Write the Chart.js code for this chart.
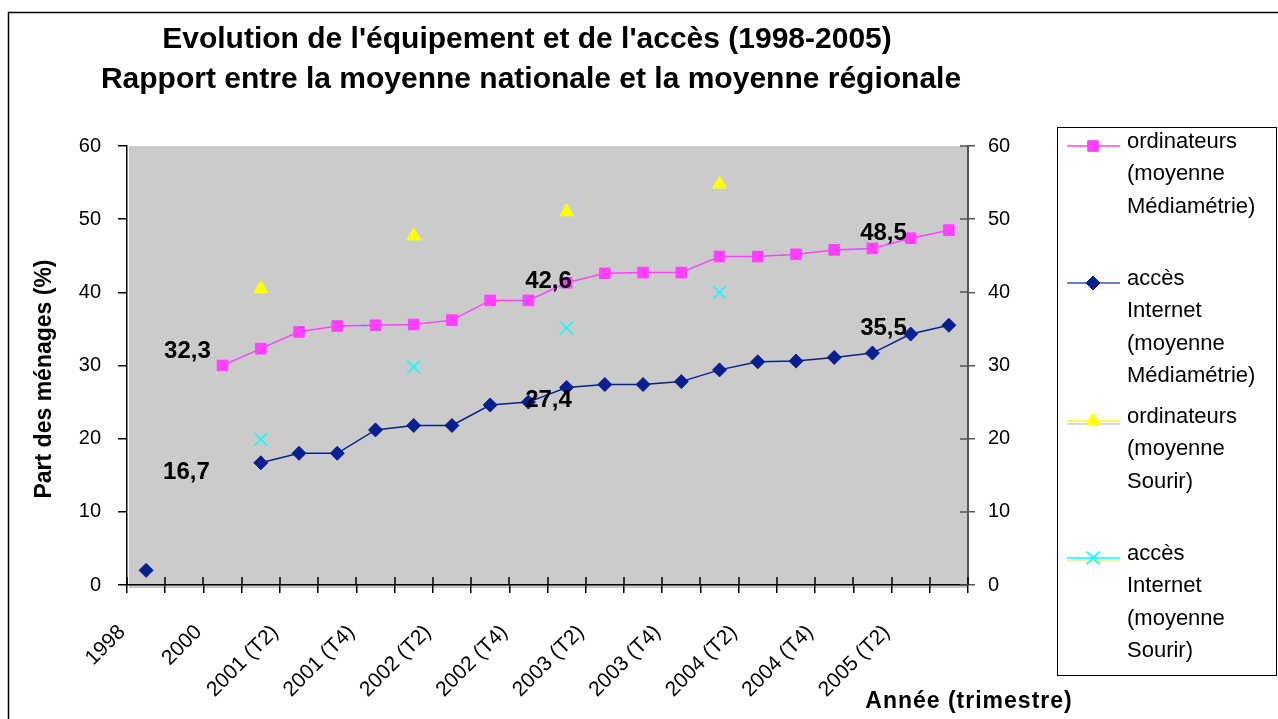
<!DOCTYPE html>
<html lang="fr">
<head>
<meta charset="utf-8">
<title>Evolution de l'équipement et de l'accès (1998-2005)</title>
<script src="https://cdn.jsdelivr.net/npm/chart.js@4.4.1/dist/chart.umd.min.js"></script>
<style>
  html, body { margin: 0; padding: 0; background: #fff; }
  #chart { display: block; }
</style>
</head>
<body>
<canvas id="chart" width="1278" height="719"></canvas>
<script>
// Trimestres (un libellé sur deux est affiché sur l'axe)
const categories = [
  '1998', '1999', '2000', '2001 (T1)', '2001 (T2)', '2001 (T3)', '2001 (T4)',
  '2002 (T1)', '2002 (T2)', '2002 (T3)', '2002 (T4)', '2003 (T1)', '2003 (T2)',
  '2003 (T3)', '2003 (T4)', '2004 (T1)', '2004 (T2)', '2004 (T3)', '2004 (T4)',
  '2005 (T1)', '2005 (T2)', '2005 (T3)'
];

// Médiamétrie (moyenne nationale)
const ordiMediametrie = [null, null, 30.0, 32.3, 34.6, 35.4, 35.5, 35.6, 36.2, 38.9, 38.9,
  41.3, 42.6, 42.7, 42.7, 44.9, 44.9, 45.2, 45.8, 46.0, 47.4, 48.5];
const internetMediametrie = [2.0, null, null, 16.7, 18.0, 18.0, 21.2, 21.8, 21.8, 24.6, 25.0,
  27.0, 27.4, 27.4, 27.8, 29.4, 30.5, 30.6, 31.1, 31.7, 34.3, 35.5];

// Sourir (moyenne régionale), un relevé par an
const ordiSourir = [null, null, null, 40.5, null, null, null, 47.7, null, null, null,
  51.0, null, null, null, 54.8, null, null, null, null, null, null];
const internetSourir = [null, null, null, 19.9, null, null, null, 29.8, null, null, null,
  35.1, null, null, null, 40.0, null, null, null, null, null, null];

const seriesNames = [
  ['ordinateurs', '(moyenne', 'Médiamétrie)'],
  ['accès', 'Internet', '(moyenne', 'Médiamétrie)'],
  ['ordinateurs', '(moyenne', 'Sourir)'],
  ['accès', 'Internet', '(moyenne', 'Sourir)']
];

// points dont la valeur est écrite sur le graphique
const labelledPoints = [3, 12, 21];

const yTicks = [0, 10, 20, 30, 40, 50, 60];

const FONT = '"Liberation Sans", Arial, Helvetica, sans-serif';
const PINK = '#ff40ff';
const NAVY = '#0a1f8f';
const YELLOW = '#ffff00';
const CYAN = '#00ffff';

function fr(v) {
  return v.toFixed(1).replace('.', ',');
}

// fond gris de la zone de tracé + cadre du graphique
const backgroundPlugin = {
  id: 'plotBackground',
  beforeDraw(chart) {
    const { ctx, chartArea: a } = chart;
    ctx.save();
    ctx.fillStyle = '#fff';
    ctx.fillRect(0, 0, chart.width, chart.height);
    ctx.strokeStyle = '#000';
    ctx.lineWidth = 1.5;
    ctx.beginPath();
    ctx.moveTo(8.5, chart.height);
    ctx.lineTo(8.5, 12.5);
    ctx.lineTo(chart.width, 12.5);
    ctx.stroke();
    ctx.fillStyle = '#cbcbcb';
    ctx.fillRect(a.left + 2, a.top, a.right - a.left - 2, a.bottom - a.top + 3);
    ctx.restore();
  }
};

// partie intérieure des graduations (axe X et axe de droite)
const innerTicksPlugin = {
  id: 'innerTicks',
  beforeDatasetsDraw(chart) {
    const { ctx, scales: { x, y1 } } = chart;
    ctx.save();
    ctx.lineWidth = 1.5;
    ctx.strokeStyle = '#000';
    ctx.beginPath();
    for (let i = 0; i <= categories.length; i++) {
      const px = Math.round(x.getPixelForValue(i - 0.5));
      ctx.moveTo(px, x.top);
      ctx.lineTo(px, x.top - 8);
    }
    ctx.stroke();
    ctx.strokeStyle = '#555';
    ctx.beginPath();
    y1.ticks.forEach(t => {
      const py = Math.round(y1.getPixelForValue(t.value));
      ctx.moveTo(y1.left, py);
      ctx.lineTo(y1.left - 8, py);
    });
    ctx.stroke();
    ctx.restore();
  }
};

// valeurs écrites à gauche de certains points
const valueLabelPlugin = {
  id: 'valueLabels',
  afterDatasetsDraw(chart, args, opts) {
    const { ctx } = chart;
    ctx.save();
    ctx.font = `bold 24px ${FONT}`;
    ctx.fillStyle = '#000';
    ctx.textAlign = 'right';
    ctx.textBaseline = 'middle';
    opts.series.forEach(s => {
      const meta = chart.getDatasetMeta(s.dataset);
      const values = chart.data.datasets[s.dataset].data;
      labelledPoints.forEach((idx, k) => {
        const pt = meta.data[idx];
        const [dx, dy] = s.offsets[k];
        ctx.fillText(fr(values[idx]), pt.x + dx, pt.y + dy);
      });
    });
    ctx.restore();
  }
};

// titres du graphique et des axes
const titlesPlugin = {
  id: 'titles',
  afterDraw(chart) {
    const { ctx } = chart;
    ctx.save();
    ctx.fillStyle = '#000';
    ctx.textAlign = 'center';
    ctx.textBaseline = 'middle';
    ctx.font = `bold 30px ${FONT}`;
    ctx.fillText("Evolution de l'équipement et de l'accès (1998-2005)", 527, 40);
    ctx.fillText('Rapport entre la moyenne nationale et la moyenne régionale', 531, 80);

    ctx.font = `bold 23px ${FONT}`;
    ctx.save();
    ctx.translate(45, 379);
    ctx.rotate(-Math.PI / 2);
    ctx.fillText('Part des ménages (%)', 0, 0);
    ctx.restore();

    if ('letterSpacing' in ctx) ctx.letterSpacing = '1px';
    ctx.fillText('Année (trimestre)', 969, 702);
    ctx.restore();
  }
};

// légende à droite, libellés sur plusieurs lignes
const legendBoxPlugin = {
  id: 'legendBox',
  afterDraw(chart) {
    const { ctx } = chart;
    const box = { x: 1057.5, y: 127.5, w: 219, h: 548 };
    const starts = [143, 280, 418, 555];
    const lineStep = 32.4;
    ctx.save();
    ctx.strokeStyle = '#000';
    ctx.lineWidth = 1;
    ctx.strokeRect(box.x, box.y, box.w, box.h);

    chart.data.datasets.forEach((ds, i) => {
      const y0 = starts[i];
      const my = y0 + 3;
      // segment de ligne
      ctx.lineWidth = 1.5;
      ctx.strokeStyle = ds.legendLine;
      ctx.beginPath();
      ctx.moveTo(1067, my);
      ctx.lineTo(1120, my);
      ctx.stroke();
      if (ds.legendLine2) {
        ctx.strokeStyle = ds.legendLine2;
        ctx.beginPath();
        ctx.moveTo(1067, my + 3);
        ctx.lineTo(1120, my + 3);
        ctx.stroke();
      }
      // marqueur
      ctx.fillStyle = ds.pointBackgroundColor;
      ctx.strokeStyle = ds.pointBorderColor;
      ctx.lineWidth = ds.pointBorderWidth;
      Chart.helpers.drawPoint(ctx, {
        pointStyle: ds.pointStyle,
        radius: ds.pointRadius,
        rotation: 0,
        borderWidth: ds.pointBorderWidth
      }, 1093, my);
      // texte
      ctx.fillStyle = '#000';
      ctx.font = `22px ${FONT}`;
      ctx.textAlign = 'left';
      ctx.textBaseline = 'middle';
      seriesNames[i].forEach((line, k) => {
        ctx.fillText(line, 1127, y0 - 1 + k * lineStep);
      });
    });
    ctx.restore();
  }
};

const ctx = document.getElementById('chart').getContext('2d');
const chart = new Chart(ctx, {
  type: 'line',
  data: {
    labels: categories,
    datasets: [{
      label: seriesNames[0].join(' '),
      data: ordiMediametrie,
      borderColor: PINK,
      borderWidth: 1.5,
      pointStyle: 'rect',
      pointRadius: 7.5,
      pointBackgroundColor: PINK,
      pointBorderColor: PINK,
      pointBorderWidth: 1,
      legendLine: PINK,
      spanGaps: false
    }, {
      label: seriesNames[1].join(' '),
      data: internetMediametrie,
      borderColor: NAVY,
      borderWidth: 1.5,
      pointStyle: 'rectRot',
      pointRadius: 7,
      pointBackgroundColor: NAVY,
      pointBorderColor: NAVY,
      pointBorderWidth: 1,
      legendLine: '#4050b0',
      spanGaps: false
    }, {
      label: seriesNames[2].join(' '),
      data: ordiSourir,
      showLine: false,
      pointStyle: 'triangle',
      pointRadius: 8,
      pointBackgroundColor: YELLOW,
      pointBorderColor: YELLOW,
      pointBorderWidth: 1,
      legendLine: YELLOW,
      legendLine2: '#c8c8f0'
    }, {
      label: seriesNames[3].join(' '),
      data: internetSourir,
      showLine: false,
      pointStyle: 'crossRot',
      pointRadius: 9,
      pointBackgroundColor: CYAN,
      pointBorderColor: CYAN,
      pointBorderWidth: 1.5,
      legendLine: CYAN,
      legendLine2: '#f0f0a0'
    }]
  },
  options: {
    responsive: false,
    animation: false,
    devicePixelRatio: 1,
    layout: { padding: { top: 146, left: 0, right: 0, bottom: 0 } },
    elements: { line: { tension: 0 } },
    scales: {
      x: {
        type: 'category',
        offset: true,
        afterFit: scale => { scale.height = 134; },
        border: { color: '#000', width: 1.5 },
        grid: { offset: true, drawOnChartArea: false, drawTicks: true, tickLength: 8, color: '#000', lineWidth: 1.5 },
        ticks: {
          autoSkip: false,
          minRotation: 45,
          maxRotation: 45,
          padding: 27,
          labelOffset: -24,
          color: '#000',
          font: { family: FONT, size: 21 },
          callback: (value, index) => (index % 2 === 0 ? categories[index] : '')
        }
      },
      y: {
        position: 'left',
        min: 0,
        max: 60,
        afterFit: scale => { scale.width = 127; },
        afterBuildTicks: scale => { scale.ticks = yTicks.map(v => ({ value: v })); },
        border: { color: '#000', width: 1.5 },
        grid: { drawOnChartArea: false, drawTicks: true, tickLength: 9, color: '#000', lineWidth: 1.5 },
        ticks: { padding: 17, color: '#000', font: { family: FONT, size: 20 } }
      },
      y1: {
        position: 'right',
        min: 0,
        max: 60,
        afterFit: scale => { scale.width = 310; },
        afterBuildTicks: scale => { scale.ticks = yTicks.map(v => ({ value: v })); },
        border: { color: '#555', width: 2 },
        grid: { drawOnChartArea: false, drawTicks: true, tickLength: 7, color: '#555', lineWidth: 1.5 },
        ticks: { padding: 13, color: '#000', font: { family: FONT, size: 20 } }
      }
    },
    plugins: {
      legend: { display: false },
      title: { display: false },
      tooltip: { enabled: false },
      valueLabels: {
        series: [
          { dataset: 0, offsets: [[-50, 3], [-33, 8], [-42, 3]] },
          { dataset: 1, offsets: [[-51, 10], [-33, 16], [-42, 3]] }
        ]
      }
    }
  },
  plugins: [backgroundPlugin, innerTicksPlugin, valueLabelPlugin, titlesPlugin, legendBoxPlugin]
});
</script>
</body>
</html>
